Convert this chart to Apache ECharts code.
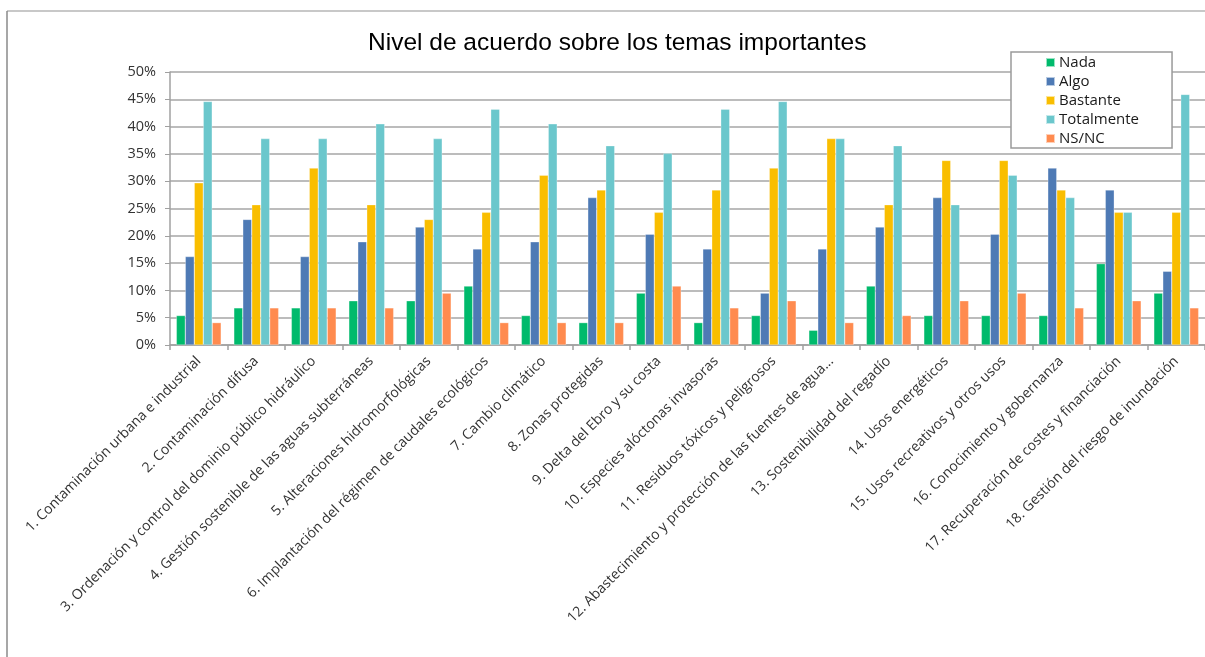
<!DOCTYPE html>
<html>
<head>
<meta charset="utf-8">
<script src="https://cdn.jsdelivr.net/npm/echarts@6/dist/echarts.min.js"></script>
<style>
html,body{margin:0;padding:0;background:#fff;}
#chart{width:1205px;height:657px;}
</style>
</head>
<body>
<div id="chart"></div>
<script>
const categories = [
  "1. Contaminación urbana e industrial",
  "2. Contaminación difusa",
  "3. Ordenación y control del dominio público hidráulico",
  "4. Gestión sostenible de las aguas subterráneas",
  "5. Alteraciones hidromorfológicas",
  "6. Implantación del régimen de caudales ecológicos",
  "7. Cambio climático",
  "8. Zonas protegidas",
  "9. Delta del Ebro y su costa",
  "10. Especies alóctonas invasoras",
  "11. Residuos tóxicos y peligrosos",
  "12. Abastecimiento y protección de las fuentes de agua...",
  "13. Sostenibilidad del regadío",
  "14. Usos energéticos",
  "15. Usos recreativos y otros usos",
  "16. Conocimiento y gobernanza",
  "17. Recuperación de costes y financiación",
  "18. Gestión del riesgo de inundación"
];
const nada       = [5.4, 6.8, 6.8, 8.1, 8.1, 10.8, 5.4, 4.1, 9.5, 4.1, 5.4, 2.7, 10.8, 5.4, 5.4, 5.4, 14.9, 9.5];
const algo       = [16.2, 23.0, 16.2, 18.9, 21.6, 17.6, 18.9, 27.0, 20.3, 17.6, 9.5, 17.6, 21.6, 27.0, 20.3, 32.4, 28.4, 13.5];
const bastante   = [29.7, 25.7, 32.4, 25.7, 23.0, 24.3, 31.1, 28.4, 24.3, 28.4, 32.4, 37.8, 25.7, 33.8, 33.8, 28.4, 24.3, 24.3];
const totalmente = [44.6, 37.8, 37.8, 40.5, 37.8, 43.2, 40.5, 36.5, 35.1, 43.2, 44.6, 37.8, 36.5, 25.7, 31.1, 27.0, 24.3, 45.9];
const nsnc       = [4.1, 6.8, 6.8, 6.8, 9.5, 4.1, 4.1, 4.1, 10.8, 6.8, 8.1, 4.1, 5.4, 8.1, 9.5, 6.8, 8.1, 6.8];
const seriesNames = ["Nada", "Algo", "Bastante", "Totalmente", "NS/NC"];
const seriesData = [nada, algo, bastante, totalmente, nsnc];
const colors = ["#00BA6C", "#4E7AB5", "#F9BE00", "#6BC7CC", "#FF8B4F"];

const chart = echarts.init(document.getElementById('chart'), null, {renderer: 'canvas'});
const font = "Open Sans, Noto Sans, sans-serif";
chart.setOption({
  animation: false,
  backgroundColor: '#fff',
  color: colors,
  title: {
    text: "Nivel de acuerdo sobre los temas importantes",
    left: 363,
    top: 26,
    textStyle: {fontFamily: "Liberation Sans, Arial, sans-serif", fontSize: 24.5, fontWeight: 'normal', color: '#000'}
  },
  legend: {
    orient: 'vertical',
    left: 1011,
    top: 52,
    padding: [1, 33, 0, 34],
    itemWidth: 9,
    itemHeight: 9,
    itemGap: 0,
    borderColor: '#9a9a9a',
    borderWidth: 1.5,
    backgroundColor: '#fff',
    icon: 'rect',
    textStyle: {fontFamily: font, fontSize: 15, lineHeight: 19, color: '#1a1a1a', padding: [0,0,0,-1]},
    data: seriesNames
  },
  grid: {left: 170, top: 72, width: 1041, height: 273, containLabel: false},
  xAxis: {
    type: 'category',
    data: categories,
    axisLine: {lineStyle: {color: '#a0a0a0', width: 1.5}},
    axisTick: {show: true, length: 5, lineStyle: {color: '#a0a0a0', width: 1.5}},
    axisLabel: {rotate: 45, interval: 0, margin: 14, fontFamily: font, fontSize: 14, color: '#333'}
  },
  yAxis: {
    type: 'value',
    min: 0, max: 50, interval: 5,
    axisLine: {show: true, lineStyle: {color: '#a0a0a0', width: 1.5}},
    axisTick: {show: true, length: 5, lineStyle: {color: '#a0a0a0'}},
    splitLine: {lineStyle: {color: '#a6a6a6', width: 1.5}},
    axisLabel: {formatter: '{value}%', margin: 14, fontFamily: font, fontSize: 14.5, color: '#333'}
  },
  graphic: [
    {type: 'line', shape: {x1: 7, y1: 11, x2: 1205, y2: 11}, style: {stroke: '#c8c8c8', lineWidth: 2}, z: 100},
    {type: 'line', shape: {x1: 7, y1: 11, x2: 7, y2: 657}, style: {stroke: '#8a8a8a', lineWidth: 1.5}, z: 100}
  ],
  series: seriesNames.map((n, i) => ({
    name: n,
    type: 'bar',
    data: seriesData[i],
    barGap: '0%',
    barCategoryGap: '22%',
    itemStyle: {borderColor: 'rgba(255,255,255,0.6)', borderWidth: 0.5}
  }))
});
</script>
</body>
</html>
